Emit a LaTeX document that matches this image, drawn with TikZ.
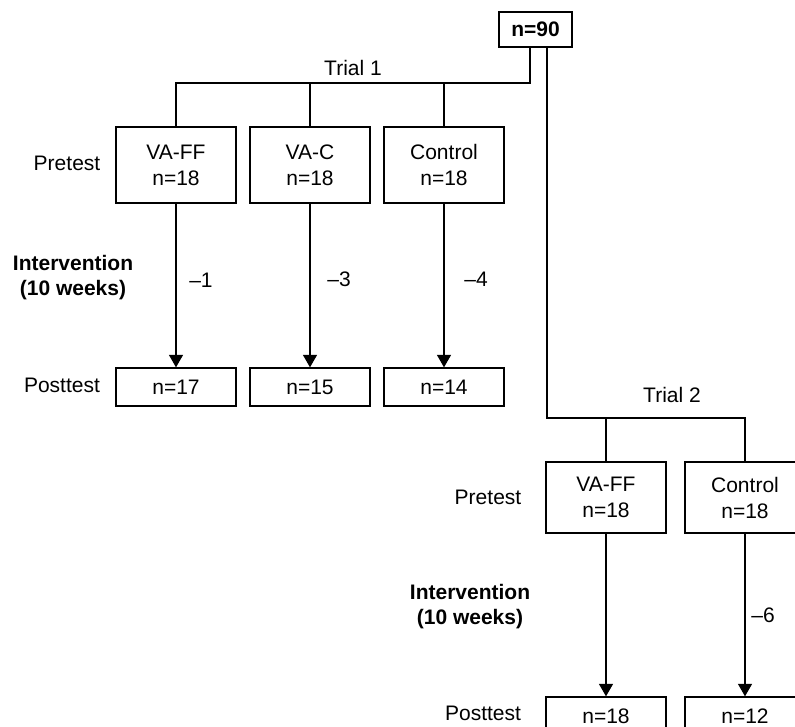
\documentclass[tikz,border=0pt]{standalone}
\usepackage{fontspec}
\setmainfont{Liberation Sans}
\usetikzlibrary{arrows.meta}
\begin{document}
\begin{tikzpicture}[x=1pt,y=-1pt,
  every node/.style={font=\fontsize{21}{26}\selectfont},
  box/.style={draw,line width=1.3pt,minimum width=120pt,inner sep=0pt,align=center},
  prebox/.style={box,minimum height=76pt},
  prebox2/.style={box,minimum height=71pt},
  postbox/.style={box,minimum height=38pt},
  lbl/.style={inner sep=0pt,align=center},
  blbl/.style={inner sep=0pt,align=center,font=\fontsize{21}{25}\selectfont\bfseries},
  conn/.style={line width=1.3pt},
  arr/.style={line width=1.3pt,-{Triangle[width=14pt,length=12.5pt]}}
]
\clip (0,0) rectangle (795,727);
% top
\node[draw,line width=1.3pt,minimum width=73pt,minimum height=35pt,inner sep=0pt,font=\fontsize{21}{26}\selectfont\bfseries] (n90) at (535.5,29.5) {n=90};
% trial 1
\node[prebox] (p1a) at (176,165) {VA-FF\\n=18};
\node[prebox] (p1b) at (310,165) {VA-C\\n=18};
\node[prebox] (p1c) at (444,165) {Control\\n=18};
\node[postbox] (q1a) at (176,387) {n=17};
\node[postbox] (q1b) at (310,387) {n=15};
\node[postbox] (q1c) at (444,387) {n=14};
\node[lbl] (tr1) at (353,68) {Trial 1};
\node[lbl] (pre1) at (67,163) {Pretest};
\node[lbl] (post1) at (62,385) {Posttest};
\node[blbl] (int1) at (73,278) {Intervention\\(10 weeks)};
\node[lbl] (d1) at (201,280) {\textendash1};
\node[lbl] (d3) at (339,279) {\textendash3};
\node[lbl] (d4) at (476,279) {\textendash4};
% trial 2
\node[prebox2] (p2a) at (606,497.5) {VA-FF\\n=18};
\node[prebox2] (p2b) at (745,497.5) {Control\\n=18};
\node[postbox] (q2a) at (606,716) {n=18};
\node[postbox] (q2b) at (745,716) {n=12};
\node[lbl] (tr2) at (672,395) {Trial 2};
\node[lbl] (pre2) at (488,497) {Pretest};
\node[lbl] (post2) at (483,713) {Posttest};
\node[blbl] (int2) at (470,607) {Intervention\\(10 weeks)};
\node[lbl] (d6) at (763,615) {\textendash6};
% connectors
\coordinate (t1) at (530,83);
\coordinate (t2) at (547,418);
\draw[conn] (n90.south -| t1) -- (t1) -| (p1a.north);
\draw[conn] (p1b.north) -- (p1b.north |- t1);
\draw[conn] (p1c.north) -- (p1c.north |- t1);
\draw[conn] (n90.south -| t2) -- (t2) -| (p2b.north);
\draw[conn] (p2a.north) -- (p2a.north |- t2);
\draw[arr] (p1a.south) -- (q1a.north -| p1a.south);
\draw[arr] (p1b.south) -- (q1b.north -| p1b.south);
\draw[arr] (p1c.south) -- (q1c.north -| p1c.south);
\draw[arr] (p2a.south) -- (q2a.north -| p2a.south);
\draw[arr] (p2b.south) -- (q2b.north -| p2b.south);
\end{tikzpicture}
\end{document}
